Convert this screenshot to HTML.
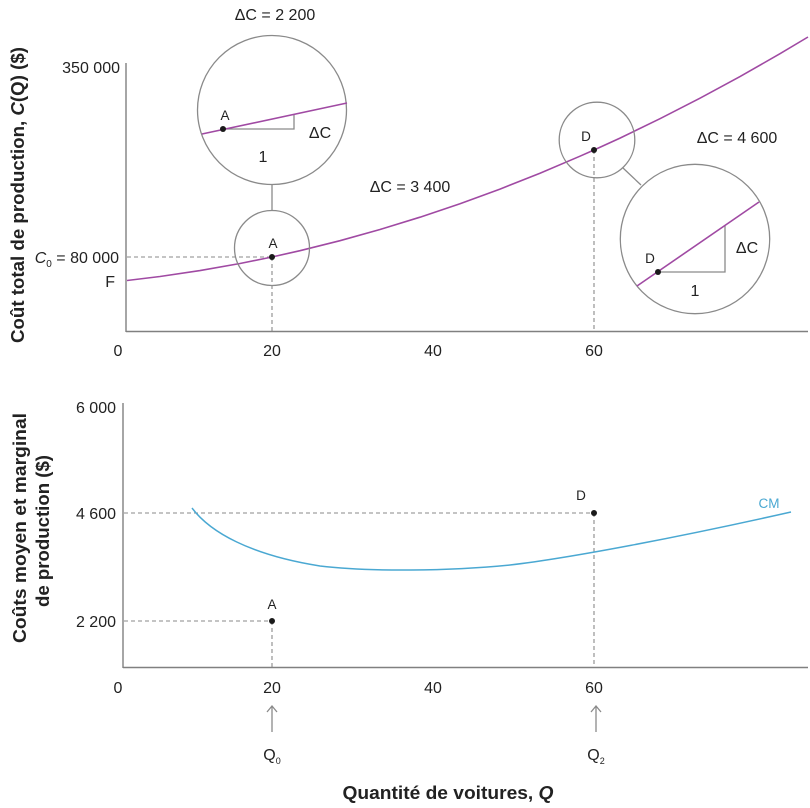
<!DOCTYPE html>
<html><head><meta charset="utf-8"><style>
html,body{margin:0;padding:0;background:#fff;}
svg{display:block;font-family:"Liberation Sans",sans-serif;}
</style></head><body>
<svg width="810" height="808" viewBox="0 0 810 808" xmlns="http://www.w3.org/2000/svg">
<!-- TOP CHART -->
<g stroke="#808080" stroke-width="1.4" fill="none">
  <line x1="126" y1="63" x2="126" y2="332"/>
  <line x1="126" y1="331.5" x2="808" y2="331.5"/>
</g>
<g stroke="#8a8a8a" stroke-width="1.1" stroke-dasharray="4,3" fill="none">
  <line x1="127" y1="257" x2="272" y2="257"/>
  <line x1="272" y1="257" x2="272" y2="331"/>
  <line x1="594" y1="150" x2="594" y2="331"/>
</g>
<path d="M127,280.5 L160,276.5 L200,270.6 L240,263.5 L272,257 L300,250.7 L340,240.7 L380,229.5 L420,217.2 L460,203.7 L500,189.1 L540,173.2 L580,156.2 L594,150 L620,138.1 L660,118.7 L700,98.2 L740,76.6 L780,53.7 L808,37" fill="none" stroke="#a04aa3" stroke-width="1.6"/>
<!-- circles -->
<g stroke="#8a8a8a" stroke-width="1.3" fill="none">
  <circle cx="272" cy="248" r="37.5"/>
  <circle cx="272" cy="110" r="74.5"/>
  <line x1="272" y1="184.5" x2="272" y2="210.5"/>
  <circle cx="597" cy="140" r="37.8"/>
  <circle cx="695" cy="239" r="74.7"/>
  <line x1="623" y1="168" x2="641" y2="185"/>
  <!-- triangles -->
  <polyline points="223,129 294,129 294,115"/>
  <polyline points="658,272 725,272 725,226"/>
</g>
<line x1="202" y1="134" x2="347" y2="103" stroke="#a04aa3" stroke-width="1.6"/>
<line x1="637" y1="286" x2="759" y2="202" stroke="#a04aa3" stroke-width="1.6"/>
<g fill="#1a1a1a">
  <circle cx="272" cy="257" r="3"/>
  <circle cx="594" cy="150" r="3"/>
  <circle cx="223" cy="129" r="3"/>
  <circle cx="658" cy="272" r="3"/>
</g>
<g fill="#222" font-size="13.5" text-anchor="middle">
  <text x="273" y="248">A</text>
  <text x="225" y="120">A</text>
  <text x="586" y="141">D</text>
  <text x="650" y="263">D</text>
</g>
<g fill="#222" font-size="16" text-anchor="middle">
  <text x="275" y="20">ΔC = 2 200</text>
  <text x="410" y="192">ΔC = 3 400</text>
  <text x="737" y="143">ΔC = 4 600</text>
  <text x="320" y="138">ΔC</text>
  <text x="747" y="253">ΔC</text>
  <text x="263" y="162">1</text>
  <text x="695" y="296">1</text>
</g>
<g fill="#222" font-size="16" text-anchor="end">
  <text x="120" y="73">350 000</text>
  <text x="119" y="263"><tspan font-style="italic">C</tspan><tspan font-size="10" dy="4">0</tspan><tspan dy="-4"> = 80 000</tspan></text>
  <text x="115" y="287">F</text>
</g>
<g fill="#222" font-size="16" text-anchor="middle">
  <text x="118" y="356">0</text>
  <text x="272" y="356">20</text>
  <text x="433" y="356">40</text>
  <text x="594" y="356">60</text>
</g>
<text transform="translate(24,195) rotate(-90)" text-anchor="middle" font-size="18" font-weight="bold" fill="#222" textLength="296" lengthAdjust="spacingAndGlyphs">Coût total de production, <tspan font-style="italic">C</tspan>(Q) ($)</text>

<!-- BOTTOM CHART -->
<g stroke="#808080" stroke-width="1.4" fill="none">
  <line x1="123" y1="403" x2="123" y2="668"/>
  <line x1="123" y1="667.5" x2="808" y2="667.5"/>
</g>
<g stroke="#8a8a8a" stroke-width="1.1" stroke-dasharray="4,3" fill="none">
  <line x1="124" y1="513" x2="594" y2="513"/>
  <line x1="594" y1="513" x2="594" y2="667"/>
  <line x1="124" y1="621" x2="272" y2="621"/>
  <line x1="272" y1="621" x2="272" y2="667"/>
</g>
<path d="M192,508 C210,532 250,555 320,566 C370,572 450,571 510,565 C570,558 680,537 791,512" fill="none" stroke="#4aa8d2" stroke-width="1.5"/>
<g fill="#1a1a1a">
  <circle cx="594" cy="513" r="3"/>
  <circle cx="272" cy="621" r="3"/>
</g>
<g fill="#222" font-size="13.5" text-anchor="middle">
  <text x="581" y="500">D</text>
  <text x="272" y="609">A</text>
</g>
<text x="769" y="508" font-size="13.5" fill="#4aa8d2" text-anchor="middle">CM</text>
<g fill="#222" font-size="16" text-anchor="end">
  <text x="116" y="413">6 000</text>
  <text x="116" y="519">4 600</text>
  <text x="116" y="627">2 200</text>
</g>
<g fill="#222" font-size="16" text-anchor="middle">
  <text x="118" y="693">0</text>
  <text x="272" y="693">20</text>
  <text x="433" y="693">40</text>
  <text x="594" y="693">60</text>
</g>
<g stroke="#8a8a8a" stroke-width="1.3" fill="none">
  <line x1="272" y1="706" x2="272" y2="732"/>
  <polyline points="267,712 272,706 277,712"/>
  <line x1="596" y1="706" x2="596" y2="732"/>
  <polyline points="591,712 596,706 601,712"/>
</g>
<g fill="#222" font-size="16" text-anchor="middle">
  <text x="272" y="760">Q<tspan font-size="9" dy="4">0</tspan></text>
  <text x="596" y="760">Q<tspan font-size="9" dy="4">2</tspan></text>
</g>
<text x="448" y="799" text-anchor="middle" font-size="18" font-weight="bold" fill="#222" textLength="211" lengthAdjust="spacingAndGlyphs">Quantité de voitures, <tspan font-style="italic">Q</tspan></text>
<text transform="translate(26,528) rotate(-90)" text-anchor="middle" font-size="18" font-weight="bold" fill="#222" textLength="230" lengthAdjust="spacingAndGlyphs">Coûts moyen et marginal</text>
<text transform="translate(49,531) rotate(-90)" text-anchor="middle" font-size="18" font-weight="bold" fill="#222" textLength="152" lengthAdjust="spacingAndGlyphs">de production ($)</text>
</svg>
</body></html>
